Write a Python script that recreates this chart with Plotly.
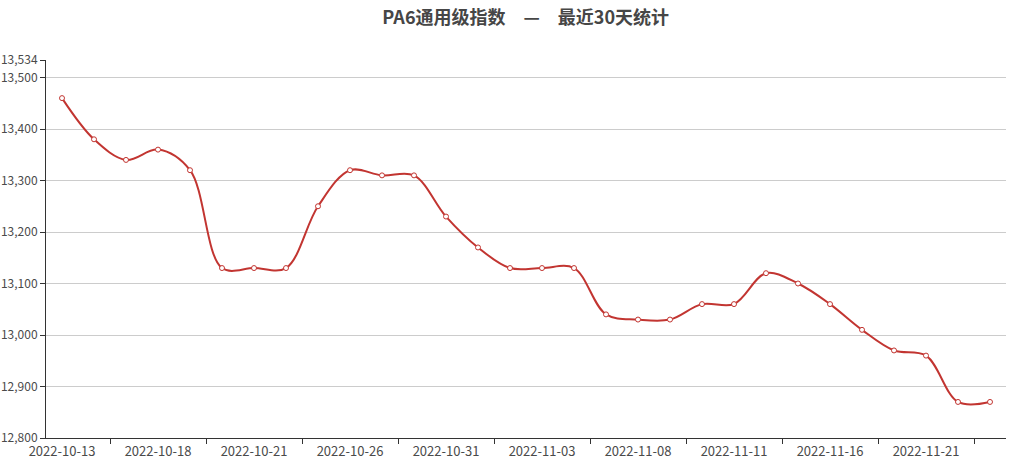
import plotly.graph_objects as go

dates = ["2022-10-13", "2022-10-14", "2022-10-17", "2022-10-18", "2022-10-19",
         "2022-10-20", "2022-10-21", "2022-10-24", "2022-10-25", "2022-10-26",
         "2022-10-27", "2022-10-28", "2022-10-31", "2022-11-01", "2022-11-02",
         "2022-11-03", "2022-11-04", "2022-11-07", "2022-11-08", "2022-11-09",
         "2022-11-10", "2022-11-11", "2022-11-14", "2022-11-15", "2022-11-16",
         "2022-11-17", "2022-11-18", "2022-11-21", "2022-11-22", "2022-11-23"]
index_vals = [13460, 13380, 13340, 13360, 13320, 13130, 13130, 13130, 13250, 13320,
              13310, 13310, 13230, 13170, 13130, 13130, 13130, 13040, 13030, 13030,
              13060, 13060, 13120, 13100, 13060, 13010, 12970, 12960, 12870, 12870]
y_ticks = [12800, 12900, 13000, 13100, 13200, 13300, 13400, 13500, 13534]

red = "#c23531"
font = "Noto Sans CJK SC, Noto Sans, sans-serif"
label_color = "#4a4a4a"

pos = list(range(len(dates)))
label_pos = pos[::3]
tick_pos = [p + 1.5 for p in pos[::3]]

fig = go.Figure()
fig.add_trace(go.Scatter(
    x=pos, y=index_vals, mode="lines+markers",
    line=dict(color=red, width=2, shape="spline", smoothing=1),
    marker=dict(symbol="circle", size=5, color="white", line=dict(color=red, width=1)),
    showlegend=False,
))
# invisible trace so that the label axis is drawn
fig.add_trace(go.Scatter(x=[pos[0]], y=[index_vals[0]], xaxis="x2", mode="markers",
                         marker=dict(opacity=0), showlegend=False, hoverinfo="skip"))

fig.update_layout(
    width=1011, height=468,
    margin=dict(l=46, r=5, t=60, b=30, autoexpand=False),
    paper_bgcolor="white", plot_bgcolor="white",
    font=dict(family=font, size=12, color=label_color),
    title=dict(text="<b>PA6通用级指数　—　最近30天统计</b>", x=0.52, xanchor="center",
               y=0.963, yanchor="middle", font=dict(size=18, color="#464646", family=font)),
    xaxis=dict(
        range=[-0.5, len(dates) - 0.5], tickvals=tick_pos, ticktext=[""] * len(tick_pos),
        ticks="outside", ticklen=5, tickcolor="#333", showgrid=False, automargin=False,
        showline=True, linecolor="#333", linewidth=1, zeroline=False,
    ),
    xaxis2=dict(
        overlaying="x", matches="x", side="bottom", anchor="y", automargin=False,
        tickvals=label_pos, ticktext=[dates[i] for i in label_pos],
        ticks="", showgrid=False, showline=False, zeroline=False, ticklabelstandoff=4,
        tickfont=dict(size=13, color=label_color),
    ),
    yaxis=dict(
        range=[12800, 13534], tickvals=y_ticks, tickformat=",d", automargin=False,
        ticks="outside", ticklen=5, tickcolor="#333",
        tickfont=dict(size=12, color=label_color),
        showgrid=True, gridcolor="#ccc", gridwidth=1,
        showline=True, linecolor="#333", linewidth=1, zeroline=False,
    ),
)

fig.write_html("out.html", config={"displayModeBar": False},
               post_script="document.body.style.margin='0';")
